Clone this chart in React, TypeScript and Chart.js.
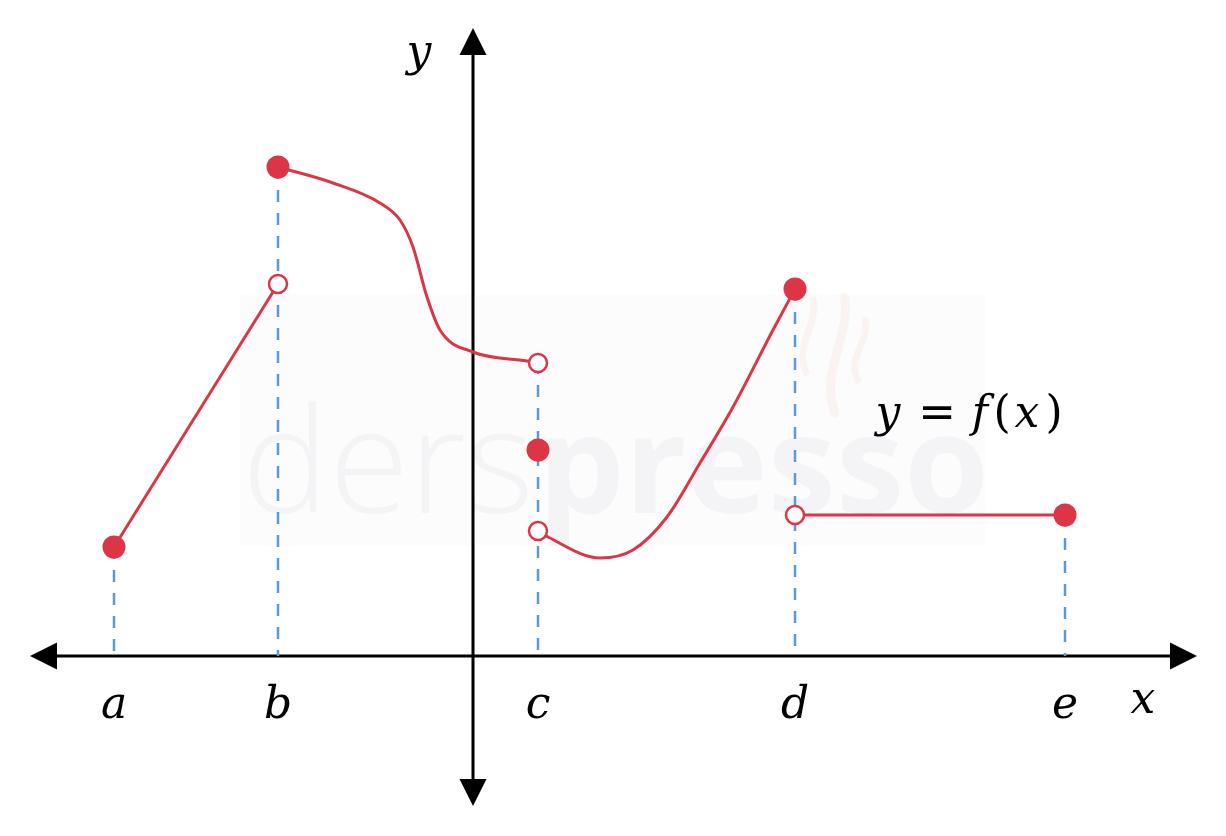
import React, { useEffect, useRef } from 'react';
import { Chart, registerables } from 'chart.js';

Chart.register(...registerables);

// ---- data (math units, origin at the axes' crossing) ----
const TICK_LABELS = ['a', 'b', 'c', 'd', 'e'];
const TICK_X = [-3.59, -1.95, 0.65, 3.22, 5.92];
const DROP_TOP_Y = [1.09, 4.89, 2.94, 3.67, 1.41];

const SEG1_X = [-3.59, -1.95];
const SEG1_Y = [1.09, 3.72];
const SEG2_X = [-1.95, -1.40, -0.93, -0.73, -0.60, -0.46, -0.33, 0, 0.54, 0.65];
const SEG2_Y = [4.89, 4.73, 4.53, 4.36, 4.09, 3.59, 3.26, 3.04, 2.95, 2.93];
const SEG3_X = [0.65, 0.75, 1.27, 1.60, 1.94, 2.27, 2.60, 3.00, 3.22];
const SEG3_Y = [1.25, 1.19, 0.98, 1.06, 1.39, 1.93, 2.49, 3.26, 3.67];
const SEG4_X = [3.22, 5.92];
const SEG4_Y = [1.41, 1.41];

const FILLED_X = [-3.59, -1.95, 0.65, 3.22, 5.92];
const FILLED_Y = [1.09, 4.89, 2.06, 3.67, 1.41];
const OPEN_X = [-1.95, 0.65, 0.65, 3.22];
const OPEN_Y = [3.72, 2.93, 1.25, 1.41];

const X_MIN = -4.73, X_MAX = 7.53, Y_MIN = -1.80, Y_MAX = 6.56;
const AXIS_X_END = [-4.43, 7.24];
const AXIS_Y_END = [-1.50, 6.28];

const TICK_LABEL_Y = -0.62;
const X_NAME = { text: 'x', x: 6.70, y: -0.57 };
const Y_NAME = { text: 'y', x: -0.54, y: 5.90 };
const FORMULA_POS = { x: 3.99, y: 2.29 };
const WATERMARK = { light: 'ders', bold: 'presso', x: -2.31, y: 1.43 };

const RED = '#dc3545';
const BLUE = '#5b9bd5';
const LABEL_FONT = 'italic 44px "DejaVu Serif"';

const pts = (xs: number[], ys: number[]) => xs.map((v, i) => ({ x: v, y: ys[i] }));

const diagramPlugin = {
  id: 'diagram',
  beforeDatasetsDraw(chart: any) {
    const { ctx } = chart;
    const sx = chart.scales.x, sy = chart.scales.y;
    ctx.save();
    // watermark
    const wx = sx.getPixelForValue(WATERMARK.x);
    const wy = sy.getPixelForValue(WATERMARK.y);
    ctx.fillStyle = '#fcfcfd';
    ctx.fillRect(wx - 2, wy - 218, 745, 250);
    ctx.fillStyle = '#f4f4f7';
    ctx.textBaseline = 'alphabetic';
    ctx.font = '300 146px "Open Sans"';
    ctx.fillText(WATERMARK.light, wx, wy);
    const w1 = ctx.measureText(WATERMARK.light).width;
    ctx.font = '700 137px "Open Sans"';
    ctx.fillText(WATERMARK.bold, wx + w1 + 4, wy);
    // steam
    ctx.strokeStyle = 'rgba(235,140,110,0.08)';
    ctx.lineCap = 'round';
    const steam = [
      [806, 372, 12, 300, 7],
      [835, 413, 16, 297, 9],
      [858, 380, 12, 320, 7],
    ];
    for (const [bx, by, amp, ty, lw] of steam) {
      ctx.lineWidth = lw;
      ctx.beginPath();
      ctx.moveTo(bx, by);
      ctx.bezierCurveTo(bx - amp, by - (by - ty) * 0.35, bx + amp, by - (by - ty) * 0.65, bx + amp * 0.6, ty);
      ctx.stroke();
    }
    // axes
    const ox = sx.getPixelForValue(0), oy = sy.getPixelForValue(0);
    const xl = sx.getPixelForValue(AXIS_X_END[0]), xr = sx.getPixelForValue(AXIS_X_END[1]);
    const yb = sy.getPixelForValue(AXIS_Y_END[0]), yt = sy.getPixelForValue(AXIS_Y_END[1]);
    const al = 27, ah = 13.5;
    ctx.strokeStyle = '#000';
    ctx.fillStyle = '#000';
    ctx.lineWidth = 3;
    ctx.lineCap = 'butt';
    ctx.beginPath();
    ctx.moveTo(xl + al, oy); ctx.lineTo(xr - al, oy);
    ctx.moveTo(ox, yb - al); ctx.lineTo(ox, yt + al);
    ctx.stroke();
    const tri = (p: number[][]) => {
      ctx.beginPath();
      ctx.moveTo(p[0][0], p[0][1]); ctx.lineTo(p[1][0], p[1][1]); ctx.lineTo(p[2][0], p[2][1]);
      ctx.closePath(); ctx.fill();
    };
    tri([[xl, oy], [xl + al, oy - ah], [xl + al, oy + ah]]);
    tri([[xr, oy], [xr - al, oy - ah], [xr - al, oy + ah]]);
    tri([[ox, yt], [ox - ah, yt + al], [ox + ah, yt + al]]);
    tri([[ox, yb], [ox - ah, yb - al], [ox + ah, yb - al]]);
    ctx.restore();
  },
  afterDraw(chart: any) {
    const { ctx } = chart;
    const sx = chart.scales.x, sy = chart.scales.y;
    ctx.save();
    ctx.fillStyle = '#000';
    ctx.textBaseline = 'alphabetic';
    ctx.textAlign = 'center';
    ctx.font = LABEL_FONT;
    TICK_LABELS.forEach((t, i) => {
      ctx.fillText(t, sx.getPixelForValue(TICK_X[i]), sy.getPixelForValue(TICK_LABEL_Y));
    });
    ctx.fillText(X_NAME.text, sx.getPixelForValue(X_NAME.x), sy.getPixelForValue(X_NAME.y));
    ctx.fillText(Y_NAME.text, sx.getPixelForValue(Y_NAME.x), sy.getPixelForValue(Y_NAME.y));
    // formula y = f(x)
    const fx = sx.getPixelForValue(FORMULA_POS.x), fy = sy.getPixelForValue(FORMULA_POS.y);
    ctx.textAlign = 'center';
    const glyphs: [string, number, string][] = [
      ['y', 16, 'italic 44px "DejaVu Serif"'],
      ['=', 65, '45px "DejaVu Sans"'],
      ['f', 108, 'italic 44px "DejaVu Serif"'],
      ['(', 130, '44px "DejaVu Serif"'],
      ['x', 155, 'italic 44px "DejaVu Serif"'],
      [')', 182, '44px "DejaVu Serif"'],
    ];
    for (const [g, off, font] of glyphs) {
      ctx.font = font;
      ctx.fillText(g, fx + off, fy);
    }
    ctx.restore();
  },
};

export default function App() {
  const ref = useRef<HTMLCanvasElement>(null);
  useEffect(() => {
    if (!ref.current) return;
    const redLine = (xs: number[], ys: number[], mono: boolean) => ({
      data: pts(xs, ys),
      showLine: true,
      borderColor: RED,
      borderWidth: 3,
      pointRadius: 0,
      cubicInterpolationMode: mono ? 'monotone' : 'default',
      tension: 0,
      order: 2,
    });
    const drops = TICK_X.map((xv, i) => ({
      data: [{ x: xv, y: DROP_TOP_Y[i] }, { x: xv, y: 0 }],
      showLine: true,
      borderColor: BLUE,
      borderWidth: 2.5,
      borderDash: [12, 11],
      pointRadius: 0,
      order: 3,
    }));
    const chart = new Chart(ref.current, {
      type: 'scatter',
      data: {
        datasets: [
          ...drops,
          redLine(SEG1_X, SEG1_Y, false),
          redLine(SEG2_X, SEG2_Y, true),
          redLine(SEG3_X, SEG3_Y, true),
          redLine(SEG4_X, SEG4_Y, false),
          {
            data: pts(OPEN_X, OPEN_Y),
            pointRadius: 9,
            pointBorderWidth: 2.5,
            pointBackgroundColor: '#fff',
            pointBorderColor: RED,
            showLine: false,
            order: 1,
          },
          {
            data: pts(FILLED_X, FILLED_Y),
            pointRadius: 11.5,
            pointBorderWidth: 0,
            pointBackgroundColor: RED,
            pointBorderColor: RED,
            showLine: false,
            order: 0,
          },
        ] as any,
      },
      options: {
        animation: false,
        responsive: true,
        maintainAspectRatio: false,
        layout: { padding: 0, autoPadding: false },
        plugins: { legend: { display: false }, tooltip: { enabled: false } },
        events: [],
        scales: {
          x: { type: 'linear', min: X_MIN, max: X_MAX, display: false },
          y: { type: 'linear', min: Y_MIN, max: Y_MAX, display: false },
        },
      },
      plugins: [diagramPlugin],
    });
    return () => chart.destroy();
  }, []);
  return (
    <div style={{ position: 'fixed', left: 0, top: 0, width: 1226, height: 836, background: '#fff' }}>
      <canvas ref={ref} />
    </div>
  );
}
